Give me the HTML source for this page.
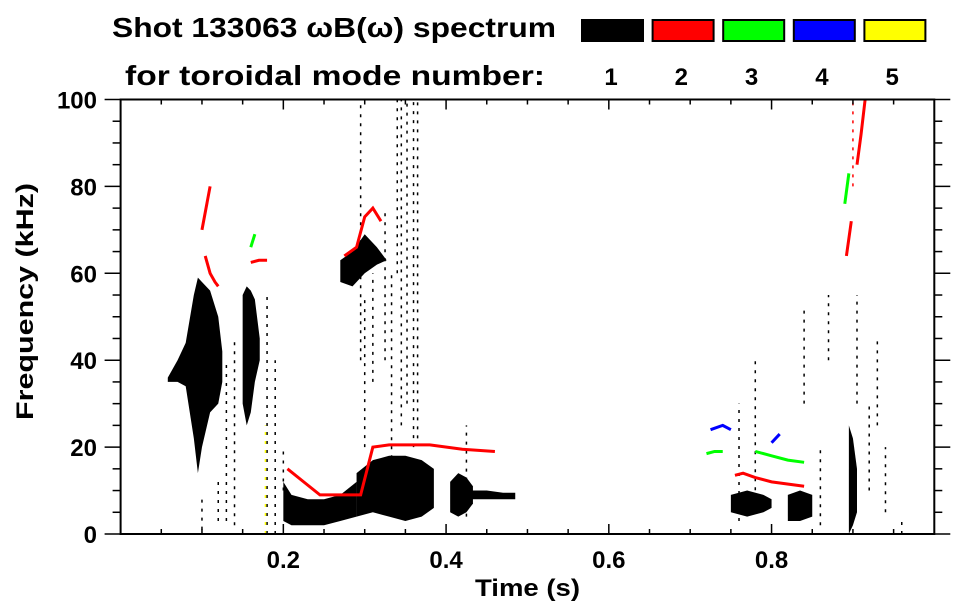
<!DOCTYPE html>
<html><head><meta charset="utf-8"><style>
body{margin:0;background:#fff;width:963px;height:615px;overflow:hidden}
svg{display:block;font-family:"Liberation Sans",Arial,sans-serif;font-weight:bold}
</style></head><body>
<svg id="c" width="963" height="615" viewBox="0 0 963 615">
<text x="112" y="37" font-size="28" textLength="444" lengthAdjust="spacingAndGlyphs">Shot 133063 ωB(ω) spectrum</text>
<text x="125" y="85" font-size="28" textLength="420" lengthAdjust="spacingAndGlyphs">for toroidal mode number:</text>
<g id="legend"></g>
<g id="marks"></g>
<g id="axes"></g>
<text x="475" y="596" font-size="24" textLength="105" lengthAdjust="spacingAndGlyphs">Time (s)</text>
<text transform="translate(33,420) rotate(-90)" font-size="24" textLength="237" lengthAdjust="spacingAndGlyphs">Frequency (kHz)</text>
</svg>
<script>
const modeLabels=['1','2','3','4','5'];
const modeColors=['#000','#f00','#0f0','#00f','#ff0'];
const xTicks=[0.2,0.4,0.6,0.8];
const yTicks=[0,20,40,60,80,100];
// filled bands: time, low freq, high freq (kHz)
const bandMode=[1,1,1,1,1,1,1,1,1,1];
const bandT=[[0.058,0.07,0.08,0.09,0.095,0.10,0.11,0.12,0.125],[0.15,0.155,0.16,0.165,0.171],[0.2,0.21,0.23,0.25,0.27,0.29],[0.29,0.31,0.33,0.35,0.37,0.385],[0.405,0.415,0.425,0.433],[0.43,0.45,0.47,0.485],[0.27,0.285,0.30,0.315,0.327],[0.75,0.77,0.79,0.80],[0.82,0.835,0.85],[0.895,0.9,0.905]];
const bandLo=[[35,35,34,22,14,20,28,30,35],[30,25,28,35,40],[3,2,2,2,3,4],[4,5,4,3,4,6],[5,4,5,7],[8,8,8,8],[58,57,60,62,63],[5,4,5,6],[3,3,4],[0,2,5]];
const bandHi=[[36,40,44,55,59,58,56,50,42],[55,57,56,54,45],[12,9,8,8,9,12],[14,17,18,18,17,15],[12,14,13,11],[10,10,9.5,9.5],[63,65,69,66,63],[9,10,9,8],[9,10,9],[25,22,15]];
// lines: time, freq, mode
const lineMode=[2,2,2,2,2,2,2,3,3,3,4,4,2,3];
const lineT=[[0.205,0.225,0.245,0.27,0.295,0.31,0.33,0.38,0.42,0.46],[0.275,0.29,0.3,0.31,0.32],[0.104,0.11,0.116,0.12],[0.16,0.17,0.18],[0.755,0.765,0.78,0.80,0.84],[0.892,0.895,0.898],[0.905,0.91,0.915],[0.72,0.73,0.74],[0.78,0.80,0.82,0.84],[0.16,0.165],[0.725,0.74,0.75],[0.80,0.81],[0.1,0.11],[0.89,0.895]];
const lineF=[[15,12,9,9,9,20,20.5,20.5,19.5,19],[64,66,73,75,72],[64,60,58,57],[62.5,63,63],[13.5,14,13,12,11],[64,68,72],[85,92,100],[18.5,19,19],[19,18,17,16.5],[66,69],[24,25,24],[21,23],[70,80],[76,83]];
// thin vertical streaks: time, f0, f1, mode
const stT=[0.345,0.352,0.36,0.365,0.333,0.3,0.31,0.325,0.2,0.19,0.18,0.14,0.13,0.425,0.84,0.905,0.92,0.93,0.94,0.96,0.1,0.12,0.178,0.9,0.76,0.78,0.87,0.86,0.295,0.34];
const stF0=[25,30,20,22,5,20,35,40,10,0,0,2,3,4,30,30,10,25,5,0,1,3,0,80,3,8,40,2,40,60];
const stF1=[100,100,100,100,60,55,60,75,20,40,55,45,40,25,52,55,30,45,20,4,8,12,25,100,30,40,55,20,100,100];
const stMode=[1,1,1,1,1,1,1,1,1,1,1,1,1,1,1,1,1,1,1,1,1,1,5,2,1,1,1,1,1,1];

const L=120.6,R=934.3,T=99.5,B=534;
const xS=t=>L+(R-L)*t/1.0, yS=f=>B-(B-T)*f/100;
const NS='http://www.w3.org/2000/svg';
function mk(tag,at,par){const e=document.createElementNS(NS,tag);for(const k in at)e.setAttribute(k,at[k]);par.appendChild(e);return e;}
const marks=document.getElementById('marks'),axes=document.getElementById('axes'),leg=document.getElementById('legend');
modeLabels.forEach((m,i)=>{
  const r=mk('rect',{x:582+70.6*i,y:20,width:61,height:21,fill:modeColors[i],stroke:'#000','stroke-width':2},leg);
  
  
  const t=mk('text',{x:611+70.3*i,y:85,'font-size':24,'text-anchor':'middle'},leg);t.textContent=m;
  
  
});
bandT.forEach((ts,i)=>{
  const pts=ts.map((t,j)=>xS(t)+','+yS(bandHi[i][j])).concat(ts.slice().reverse().map((t,j)=>xS(t)+','+yS(bandLo[i][ts.length-1-j])));
  const p=mk('polygon',{points:pts.join(' '),fill:modeColors[bandMode[i]-1]},marks);
  
  
});
stT.forEach((t,i)=>{
  const l=mk('line',{x1:xS(t),x2:xS(t),y1:yS(stF0[i]),y2:yS(stF1[i]),stroke:modeColors[stMode[i]-1],'stroke-width':1.5,'stroke-dasharray':'3 6'},marks);
  
  
});
lineT.forEach((ts,i)=>{
  const p=mk('polyline',{points:ts.map((t,j)=>xS(t)+','+yS(lineF[i][j])).join(' '),fill:'none',stroke:modeColors[lineMode[i]-1],'stroke-width':3},marks);
  
  
});
mk('rect',{x:L,y:T,width:R-L,height:B-T,fill:'none',stroke:'#000','stroke-width':2},axes);
for(let k=1;k<20;k++){const t=k*0.05,x=xS(t),len=k%4==0?10:5;
  mk('line',{x1:x,x2:x,y1:B,y2:B-len,stroke:'#000','stroke-width':1.5},axes);
  mk('line',{x1:x,x2:x,y1:T,y2:T+len,stroke:'#000','stroke-width':1.5},axes);}
for(let k=0;k<=20;k++){const f=k*5,y=yS(f),len=k%4==0?16:8;
  mk('line',{x1:L,x2:L-len,y1:y,y2:y,stroke:'#000','stroke-width':1.5},axes);
  mk('line',{x1:R,x2:R+len,y1:y,y2:y,stroke:'#000','stroke-width':1.5},axes);}
xTicks.forEach(v=>{const t=mk('text',{x:xS(v),y:568,'font-size':24,'text-anchor':'middle'},axes);t.textContent=v.toFixed(1);
  
  });
yTicks.forEach(v=>{const t=mk('text',{x:97,y:yS(v)+9,'font-size':24,'text-anchor':'end'},axes);t.textContent=v;
  
  });
</script>
</body></html>
